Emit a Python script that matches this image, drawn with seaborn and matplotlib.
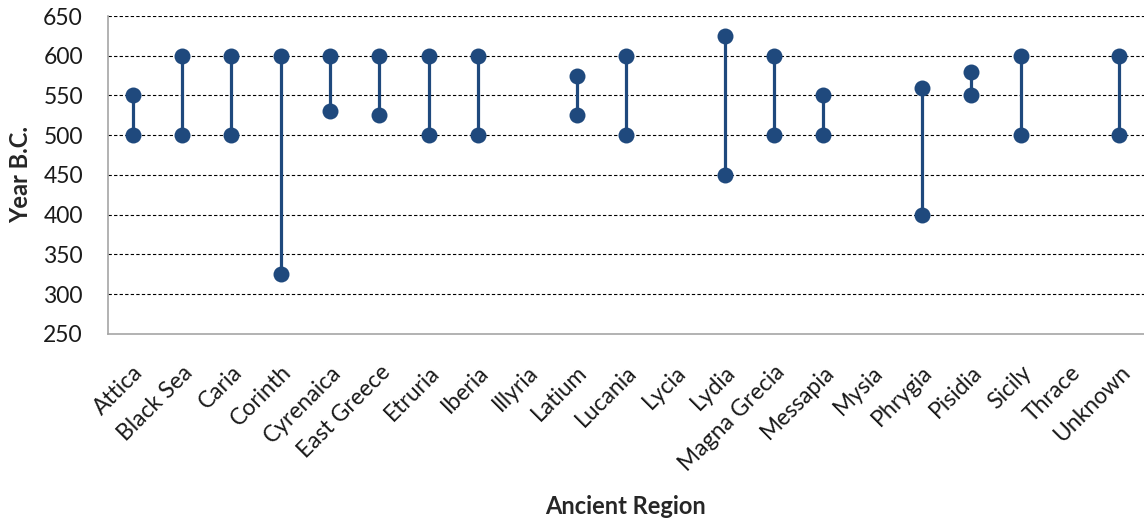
import pandas as pd
import numpy as np
import seaborn as sns
import matplotlib.pyplot as plt

# dados (NaN = sem registro)
regions = ['Attica', 'Black Sea', 'Caria', 'Corinth', 'Cyrenaica', 'East Greece',
           'Etruria', 'Iberia', 'Illyria', 'Latium', 'Lucania', 'Lycia', 'Lydia',
           'Magna Grecia', 'Messapia', 'Mysia', 'Phrygia', 'Pisidia', 'Sicily',
           'Thrace', 'Unknown']
start_year = [550, 600, 600, 600, 600, 600, 600, 600, np.nan, 575, 600, np.nan, 625,
              600, 550, np.nan, 560, 580, 600, np.nan, 600]
end_year = [500, 500, 500, 325, 530, 525, 500, 500, np.nan, 525, 500, np.nan, 450,
            500, 500, np.nan, 400, 550, 500, np.nan, 500]

cor = '#1f497d'

df = pd.DataFrame({'Region': regions, 'Start': start_year, 'End': end_year})
longo = df.melt(id_vars='Region', value_vars=['Start', 'End'], value_name='Year').dropna()

sns.set_style('white')
plt.rcParams['font.family'] = ['Lato', 'DejaVu Sans']

fig = plt.figure(figsize=(11.44, 5.25), dpi=100)
ax = fig.add_axes([0.0944, 0.364, 0.9056, 0.6055])

# linhas entre inicio e fim
pos = np.arange(len(regions))
ok = df['Start'].notna()
ax.vlines(pos[ok], df.loc[ok, 'End'], df.loc[ok, 'Start'], color=cor, lw=2.3, zorder=3)

sns.stripplot(data=longo, x='Region', y='Year', order=regions, jitter=False,
              color=cor, size=11.5, linewidth=0, zorder=4, ax=ax)

ax.set_ylim(250, 650)
ax.set_xlim(-0.5, len(regions) - 0.5)
ax.set_yticks(range(250, 651, 50))
for y in range(300, 651, 50):
    ax.axhline(y, color='black', lw=0.8, ls=(0, (3, 2)), zorder=1)

for s in ['top', 'right']:
    ax.spines[s].set_visible(False)
for s in ['left', 'bottom']:
    ax.spines[s].set_color('#a6a6a6')
    ax.spines[s].set_linewidth(1.2)

ax.tick_params(axis='both', length=0, labelsize=16.5, colors='#1a1a1a')
ax.tick_params(axis='y', pad=18)
plt.setp(ax.get_xticklabels(), rotation=45, ha='right', rotation_mode='anchor')
ax.tick_params(axis='x', pad=20)

ax.set_xlabel('Ancient Region', fontsize=17, fontweight='bold', labelpad=14)
ax.set_ylabel('Year B.C.', fontsize=17, fontweight='bold', labelpad=8)

plt.savefig('out.png', dpi=100)
plt.close()
